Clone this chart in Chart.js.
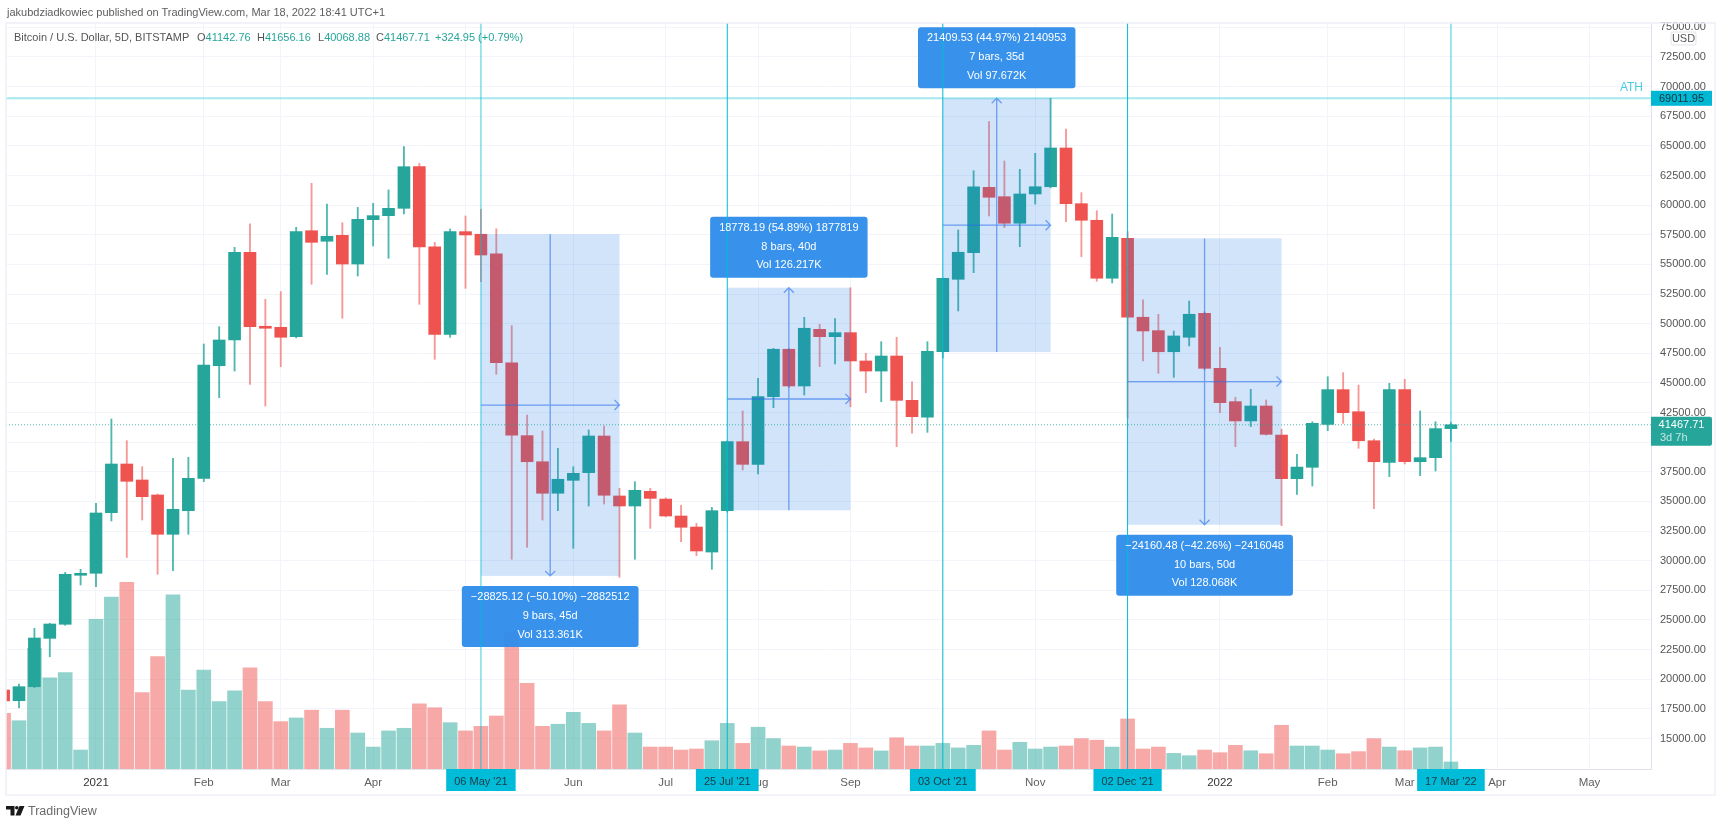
<!DOCTYPE html>
<html>
<head>
<meta charset="utf-8">
<title>Bitcoin / U.S. Dollar 5D</title>
<script src="https://cdn.jsdelivr.net/npm/chart.js@4"></script>
<style>
  html, body { margin: 0; padding: 0; background: #fff; }
  #wrap { position: relative; width: 1725px; height: 823px; overflow: hidden; font-family: "Liberation Sans", sans-serif; }
  #chart { position: absolute; left: 0; top: 0; }
  .t { position: absolute; font-size: 11px; white-space: nowrap; color: #555; line-height: 14px; }
  .g { color: #26a69a; }
</style>
</head>
<body>
<div id="wrap">
  <canvas id="chart" width="1725" height="823"></canvas>
  <div class="t" style="left:7px;top:5px;color:#5d5d5d">jakubdziadkowiec published on TradingView.com, Mar 18, 2022 18:41 UTC+1</div>
  <div class="t" style="left:14px;top:30px">Bitcoin / U.S. Dollar, 5D, BITSTAMP</div>
  <div class="t" style="left:197px;top:30px">O<span class="g">41142.76</span></div>
  <div class="t" style="left:257px;top:30px">H<span class="g">41656.16</span></div>
  <div class="t" style="left:318px;top:30px">L<span class="g">40068.88</span></div>
  <div class="t" style="left:376px;top:30px">C<span class="g">41467.71</span></div>
  <div class="t g" style="left:435px;top:30px">+324.95 (+0.79%)</div>
  <svg style="position:absolute;left:6px;top:806px" width="19" height="10" viewBox="0 0 19 10">
    <path d="M0 0h8.5v9.5h-4v-6H0z M13.5 0h5l-4 9.5h-5z" fill="#1a1a1a"/>
    <circle cx="10.8" cy="1.8" r="1.8" fill="#1a1a1a"/>
  </svg>
  <div class="t" style="left:28px;top:804px;font-size:12.5px;color:#6a6a6a">TradingView</div>
</div>
<script>
// bars, five days each; bar 0 is the one cut off by the left edge
const opens = [19090,18188,19369,23450,24635,28770,28937,34050,38158,36810,35543,32227,34220,36950,46450,48620,56020,49780,49690,48900,
  57840,56950,57450,55030,58770,59110,59730,63240,56490,49100,57760,57540,55880,46700,40550,38350,35690,36780,37430,40520,
  35460,34615,35855,35200,33770,32840,30730,34220,40040,38130,43840,47840,44740,49520,48900,49240,46850,46000,47270,43530,
  42100,47630,53740,55990,61500,60710,58470,60940,61550,64820,60120,58720,53830,57200,50540,49410,47630,48850,50870,46230,
  43420,41790,43050,40600,36920,37880,41500,44430,42570,40120,38300,44430,38350,38690,41142.76];
const closes = [18170,19369,23478,24660,28853,28900,34025,38158,36700,35400,32227,34337,36950,46510,48620,56020,49740,49610,48850,57760,
  56860,57370,55030,58800,59110,59730,63240,56470,49100,57760,57480,55790,46700,40600,38350,35690,36870,37370,40520,35520,
  34615,35940,35260,33770,32820,30820,34220,40040,38130,43840,47840,44740,49610,48900,49240,46850,46000,47270,43530,42150,
  47670,53830,56020,61550,60660,58470,60940,61550,64820,60120,58720,53830,57280,50540,49380,47630,48960,50790,46230,43330,
  41790,43050,40660,36920,37900,41590,44430,42490,40120,38350,44430,38350,38690,41142.76,41467.71];
const highs = [19200,19597,24297,24718,29021,29274,34843,41955,40125,37930,35630,38640,38720,48280,49740,56440,58410,52050,52700,58130,
  61840,60090,58520,59810,60150,61280,64930,63530,56860,57980,59080,59650,58000,49830,42290,40940,39480,37930,41030,41360,
  36110,36670,36110,35300,34670,33150,34500,40100,42630,45390,47920,47900,50530,49950,50420,53030,47500,48480,48850,45100,
  48480,53850,57900,62900,67040,63720,63020,64370,69011.95,66420,61050,59530,59250,57760,52000,50790,49380,51910,51000,48000,
  43790,44460,43560,41090,38980,41730,45520,45860,44820,40250,44970,45300,42630,41730,41656.16];
const lows = [18000,17572,19300,21900,24550,27950,27806,33350,30270,33434,28853,29156,32227,36665,43750,46000,44880,43050,46370,48800,
  53320,54160,50450,54020,56550,55510,59250,51630,46990,48850,52980,53540,45730,30120,31130,33430,34220,31050,34615,34780,
  28600,30120,32730,33700,31600,30420,29270,34100,37650,37320,42910,44600,43980,46370,46600,42990,44170,43410,39620,40750,
  40830,47100,51070,54300,59080,58100,56490,60090,61450,58600,55650,53570,53430,42000,46850,45810,45470,48120,46100,42490,
  39620,41310,40600,32950,35600,36300,40970,41590,39480,34390,37090,38160,37170,37570,40068.88];
const volumes = [31.7,27.5,68.8,52.0,54.9,10.8,85.3,97.9,106.4,43.5,64.0,99.2,45.0,56.4,38.4,44.6,57.6,38.4,27.0,29.1,
  33.5,23.2,33.5,20.5,12.5,21.7,23.2,37.1,34.9,26.4,21.7,24.3,30.2,78.1,48.8,24.3,25.5,32.3,26.0,21.7,
  36.5,20.5,12.5,12.5,10.8,11.4,16.1,26.0,14.6,23.8,17.3,13.1,12.5,10.3,10.8,14.6,12.0,10.3,17.8,13.1,
  13.1,14.6,12.0,13.5,21.7,10.8,15.2,11.4,12.5,13.1,17.3,16.4,12.5,28.5,11.4,12.5,8.9,7.6,10.8,9.3,
  13.5,10.4,8.7,24.9,13.1,13.1,10.8,8.7,9.9,17.3,12.5,10.4,12.0,12.5,4.0];

const priceTicks = [15000,17500,20000,22500,25000,27500,30000,32500,35000,37500,40000,42500,45000,47500,50000,52500,55000,57500,
  60000,62500,65000,67500,70000,72500,75000];
const monthBars = [6,13,18,24,30,37,43,49,55,61,67,73,79,86,91,97,103];
const monthNames = ['2021','Feb','Mar','Apr','May','Jun','Jul','Aug','Sep','Oct','Nov','Dec','2022','Feb','Mar','Apr','May'];

const markerBars = [31,47,61,73,94];
const markerDates = ["06 May '21","25 Jul '21","03 Oct '21","02 Dec '21","17 Mar '22"];

const rangeStart = [31,47,61,73];
const rangeEnd = [40,55,68,83];
const rangeFrom = [57542,34252,47602,57192];
const rangeTo = [28716,53030,69011.95,33032];
const rangeLines = [
  ['\u221228825.12 (\u221250.10%) \u22122882512','9 bars, 45d','Vol 313.361K'],
  ['18778.19 (54.89%) 1877819','8 bars, 40d','Vol 126.217K'],
  ['21409.53 (44.97%) 2140953','7 bars, 35d','Vol 97.672K'],
  ['\u221224160.48 (\u221242.26%) \u22122416048','10 bars, 50d','Vol 128.068K']
];

const athPrice = 69011.95;
const lastPrice = 41467.71;

const UP = '#26a69a', DOWN = '#ef5350', CYAN = '#00bcd4';
const FONT = '"Liberation Sans", sans-serif';
const isUp = i => closes[i] >= opens[i];

const drawings = {
  id: 'drawings',
  afterDraw(chart) {
    const { ctx, chartArea: area, scales } = chart;
    const x = v => scales.x.getPixelForValue(v);
    const y = v => scales.y.getPixelForValue(v);
    ctx.save();
    ctx.textBaseline = 'middle';

    // price ranges
    ctx.beginPath();
    ctx.rect(area.left, area.top, area.width, area.height);
    ctx.clip();
    rangeStart.forEach((s, i) => {
      const x0 = x(s), x1 = x(rangeEnd[i]);
      const yFrom = y(rangeFrom[i]), yTo = y(rangeTo[i]);
      const midX = (x0 + x1) / 2, midY = (yFrom + yTo) / 2;
      ctx.fillStyle = 'rgba(25,118,230,0.2)';
      ctx.fillRect(x0, Math.min(yFrom, yTo), x1 - x0, Math.abs(yTo - yFrom));
      ctx.strokeStyle = 'rgba(41,110,235,0.6)';
      ctx.lineWidth = 1.3;
      const dir = yTo > yFrom ? -1 : 1;
      ctx.beginPath();
      ctx.moveTo(midX, yFrom); ctx.lineTo(midX, yTo);
      ctx.moveTo(midX - 5, yTo + dir * 5); ctx.lineTo(midX, yTo); ctx.lineTo(midX + 5, yTo + dir * 5);
      ctx.moveTo(x0, midY); ctx.lineTo(x1, midY);
      ctx.moveTo(x1 - 5, midY - 5); ctx.lineTo(x1, midY); ctx.lineTo(x1 - 5, midY + 5);
      ctx.stroke();
    });

    // ATH and last price lines
    ctx.strokeStyle = 'rgba(0,188,212,0.35)';
    ctx.lineWidth = 2;
    ctx.beginPath();
    ctx.moveTo(area.left, y(athPrice)); ctx.lineTo(area.right, y(athPrice));
    ctx.stroke();
    ctx.strokeStyle = 'rgba(38,166,154,0.8)';
    ctx.lineWidth = 1;
    ctx.setLineDash([1, 2]);
    ctx.beginPath();
    ctx.moveTo(area.left, y(lastPrice)); ctx.lineTo(area.right, y(lastPrice));
    ctx.stroke();
    ctx.setLineDash([]);

    // info boxes
    ctx.font = '11px ' + FONT;
    const boxes = rangeStart.map((s, i) => {
      const w = Math.max(...rangeLines[i].map(l => ctx.measureText(l).width)) + 18;
      const cx = (x(s) + x(rangeEnd[i])) / 2;
      const top = rangeTo[i] < rangeFrom[i] ? y(rangeTo[i]) + 10 : y(rangeTo[i]) - 71;
      return { cx, top, w };
    });
    ctx.fillStyle = 'rgba(45,140,235,0.95)';
    boxes.forEach(b => {
      ctx.beginPath();
      ctx.roundRect(b.cx - b.w / 2, b.top, b.w, 61, 3);
      ctx.fill();
    });

    // date lines
    markerBars.forEach((m, i) => {
      const pale = i === 0 || i === 4;
      ctx.strokeStyle = pale ? 'rgba(0,188,212,0.5)' : CYAN;
      ctx.lineWidth = pale ? 1.5 : 1;
      ctx.beginPath();
      ctx.moveTo(x(m), area.top); ctx.lineTo(x(m), area.bottom);
      ctx.stroke();
    });

    ctx.fillStyle = '#fff';
    ctx.textAlign = 'center';
    boxes.forEach((b, i) => {
      rangeLines[i].forEach((l, j) => ctx.fillText(l, b.cx, b.top + 11 + j * 18.8));
    });

    ctx.restore();
    ctx.save();
    ctx.textBaseline = 'middle';
    ctx.textAlign = 'center';
    ctx.font = '11px ' + FONT;

    // axis tags
    markerBars.forEach((m, i) => {
      const w = ctx.measureText(markerDates[i]).width + 16;
      ctx.fillStyle = '#00bcd8';
      ctx.fillRect(x(m) - w / 2, area.bottom, w, 22);
      ctx.fillStyle = '#1e3a44';
      ctx.fillText(markerDates[i], x(m), area.bottom + 12.5);
    });

    ctx.fillStyle = '#00b8d4';
    ctx.fillRect(area.right, y(athPrice) - 7.5, 61, 15);
    ctx.fillStyle = '#12333c';
    ctx.fillText(athPrice.toFixed(2), area.right + 30.5, y(athPrice) + 0.5);

    ctx.fillStyle = UP;
    ctx.beginPath();
    ctx.roundRect(area.right, y(lastPrice) - 8, 61, 29, [0, 2, 2, 0]);
    ctx.fill();
    ctx.fillStyle = '#fff';
    ctx.fillText(lastPrice.toFixed(2), area.right + 30.5, y(lastPrice));
    ctx.fillStyle = '#c6e6e1';
    ctx.textAlign = 'left';
    ctx.fillText('3d 7h', area.right + 9, y(lastPrice) + 13.5);

    ctx.textAlign = 'right';
    ctx.fillStyle = '#4ccbe0';
    ctx.font = '12px ' + FONT;
    ctx.fillText('ATH', area.right - 8, y(athPrice) - 11);

    // currency button
    ctx.font = '11px ' + FONT;
    ctx.textAlign = 'center';
    ctx.fillStyle = '#fff';
    ctx.strokeStyle = '#e0e3eb';
    ctx.beginPath();
    ctx.roundRect(area.right + 20, 32, 25, 13, 2);
    ctx.fill();
    ctx.stroke();
    ctx.fillStyle = '#555';
    ctx.fillText('USD', area.right + 32.5, 38.5);

    // outer frame
    ctx.strokeStyle = '#eef0f6';
    ctx.lineWidth = 1.5;
    ctx.strokeRect(area.left, area.top, 1709, 772);
    ctx.restore();
  }
};

new Chart(document.getElementById('chart'), {
  type: 'bar',
  data: {
    datasets: [
      {
        label: 'Volume',
        yAxisID: 'vol',
        order: 3,
        grouped: false,
        barThickness: 14,
        data: volumes.map((v, i) => ({ x: i, y: v })),
        backgroundColor: ctx => isUp(ctx.dataIndex) ? 'rgba(38,166,154,0.5)' : 'rgba(239,83,80,0.5)'
      },
      {
        label: 'Wick',
        order: 2,
        grouped: false,
        barThickness: 1.2,
        data: highs.map((h, i) => ({ x: i, y: [lows[i], h] })),
        backgroundColor: ctx => isUp(ctx.dataIndex) ? 'rgba(38,166,154,0.8)' : 'rgba(239,83,80,0.6)'
      },
      {
        label: 'BTCUSD',
        order: 1,
        grouped: false,
        barThickness: 12,
        minBarLength: 2,
        data: opens.map((o, i) => ({ x: i, y: [o, closes[i]] })),
        backgroundColor: ctx => isUp(ctx.dataIndex) ? UP : DOWN
      }
    ]
  },
  options: {
    responsive: false,
    animation: false,
    layout: { padding: { left: 6, top: 23, right: 9, bottom: 28 } },
    plugins: { legend: { display: false }, tooltip: { enabled: false } },
    scales: {
      x: {
        type: 'linear',
        offset: false,
        min: 0.155,
        max: 106.995,
        afterBuildTicks: s => { s.ticks = monthBars.map(v => ({ value: v })); },
        afterFit: s => { s.height = 26; },
        grid: { color: '#f2f4f9', drawTicks: false, offset: false },
        border: { color: '#e0e3eb' },
        ticks: {
          autoSkip: false,
          maxRotation: 0,
          padding: 7,
          font: { family: FONT, size: 11.5 },
          color: ctx => /^20/.test(monthNames[monthBars.indexOf(ctx.tick.value)]) ? '#333' : '#5f5f5f',
          callback: v => monthNames[monthBars.indexOf(v)]
        }
      },
      y: {
        position: 'right',
        min: 12426,
        max: 75364,
        afterBuildTicks: s => { s.ticks = priceTicks.map(v => ({ value: v })); },
        afterFit: s => { s.width = 65; },
        grid: { color: '#f2f4f9', drawTicks: false },
        border: { color: '#e0e3eb' },
        ticks: {
          padding: 9,
          font: { family: FONT, size: 11 },
          color: '#555',
          callback: v => v.toFixed(2)
        }
      },
      vol: { display: false, min: 0, max: 425 }
    }
  },
  plugins: [drawings]
});
</script>
</body>
</html>
